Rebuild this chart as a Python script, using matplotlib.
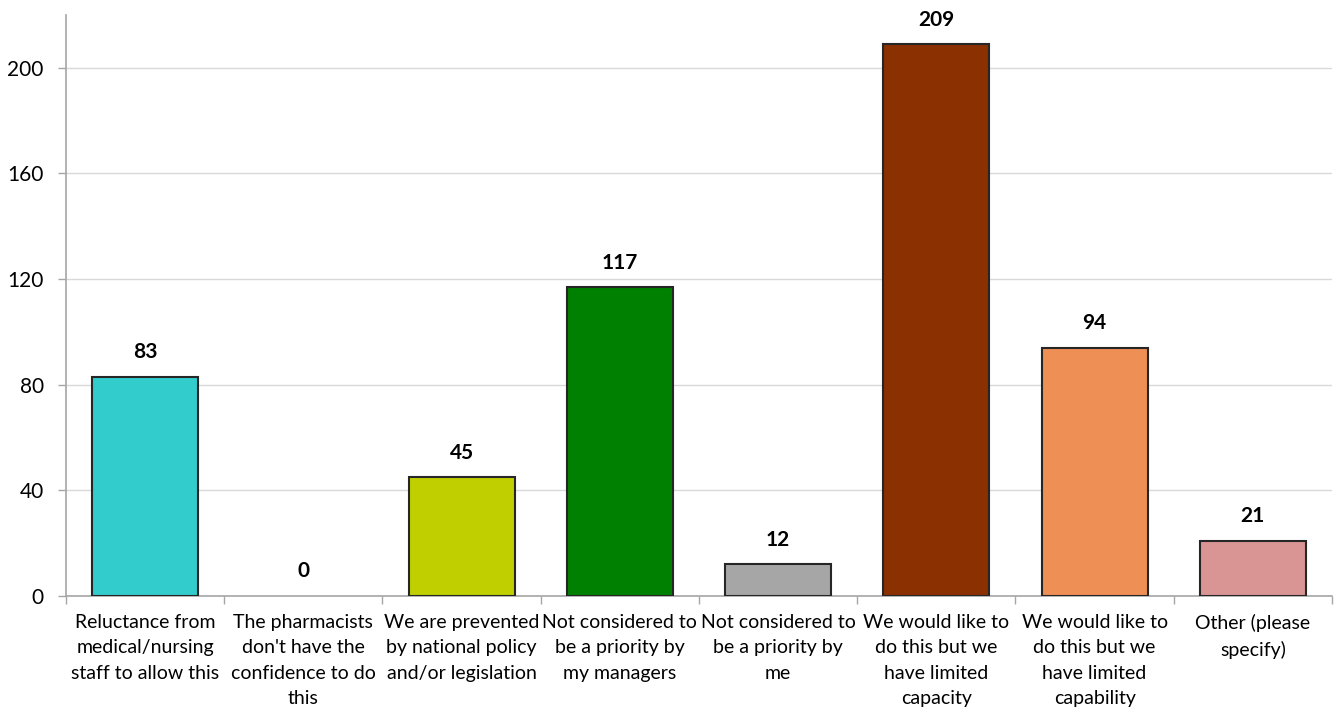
import matplotlib
matplotlib.use("Agg")
import matplotlib.pyplot as plt
import numpy as np

categories = [
    "Reluctance from\nmedical/nursing\nstaff to allow this",
    "The pharmacists\ndon't have the\nconfidence to do\nthis",
    "We are prevented\nby national policy\nand/or legislation",
    "Not considered to\nbe a priority by\nmy managers",
    "Not considered to\nbe a priority by\nme",
    "We would like to\ndo this but we\nhave limited\ncapacity",
    "We would like to\ndo this but we\nhave limited\ncapability",
    "Other (please\nspecify)",
]
values = [83, 0, 45, 117, 12, 209, 94, 21]
colors = ["#33CCCC", "#33CCCC", "#BFCF00", "#008000", "#A6A6A6", "#8B3000", "#EE8F55", "#D99594"]
yticks = [0, 40, 80, 120, 160, 200]

plt.rcParams['font.family'] = ['Lato', 'DejaVu Sans']

fig = plt.figure(figsize=(13.38, 7.16), dpi=100)
ax = fig.add_axes([0.0493, 0.1676, 0.9462, 0.8114])

x = np.arange(len(categories))
bars = ax.bar(x, values, width=0.67, color=colors, edgecolor="#262626", linewidth=1.5, zorder=3)
for b, v in zip(bars, values):
    if v == 0:
        b.set_visible(False)
    ax.text(b.get_x() + b.get_width() / 2, v + 5.5, str(v), ha="center", va="bottom",
            fontsize=15, fontweight="bold", color="black")

ax.set_xlim(-0.5, len(categories) - 0.5)
ax.set_ylim(0, 220)
ax.set_yticks(yticks)
ax.set_yticklabels([str(t) for t in yticks], fontsize=15)
ax.yaxis.grid(True, color="#D9D9D9", linewidth=1, zorder=0)
ax.set_axisbelow(True)

ax.set_xticks(x)
ax.set_xticklabels(categories, fontsize=14, linespacing=1.6)
ax.tick_params(axis="x", length=0, pad=13)
ax.set_xticks(np.arange(len(categories) + 1) - 0.5, minor=True)
ax.tick_params(axis="x", which="minor", length=6, color="#A6A6A6", width=1)
ax.tick_params(axis="y", length=6, color="#A6A6A6", width=1, pad=10)

for s in ["top", "right"]:
    ax.spines[s].set_visible(False)
for s in ["left", "bottom"]:
    ax.spines[s].set_color("#A6A6A6")
    ax.spines[s].set_linewidth(1.2)

fig.savefig("out.png", dpi=100)
